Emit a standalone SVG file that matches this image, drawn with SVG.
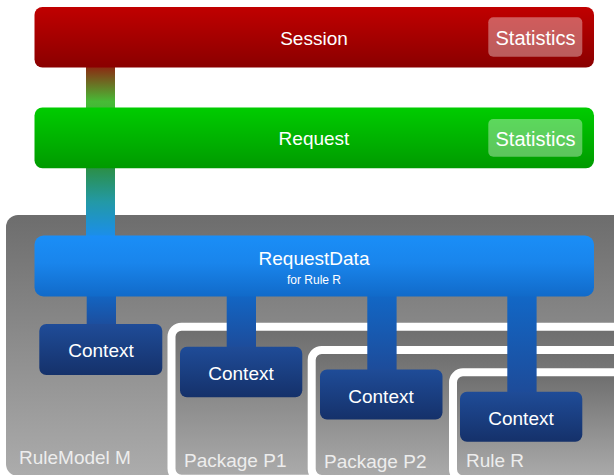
<svg xmlns="http://www.w3.org/2000/svg" width="614" height="475" viewBox="0 0 614 475">
  <defs>
    <linearGradient id="gSession" x1="0" y1="0" x2="0" y2="1">
      <stop offset="0" stop-color="#c00000"/>
      <stop offset="1" stop-color="#8a0000"/>
    </linearGradient>
    <linearGradient id="gRequest" x1="0" y1="0" x2="0" y2="1">
      <stop offset="0" stop-color="#00cc00"/>
      <stop offset="1" stop-color="#009a00"/>
    </linearGradient>
    <linearGradient id="gData" x1="0" y1="0" x2="0" y2="1">
      <stop offset="0" stop-color="#1a8ef7"/>
      <stop offset="0.45" stop-color="#1985ec"/>
      <stop offset="1" stop-color="#116ac9"/>
    </linearGradient>
    <linearGradient id="gContext" x1="0" y1="0" x2="0" y2="1">
      <stop offset="0" stop-color="#1f4c98"/>
      <stop offset="1" stop-color="#15316a"/>
    </linearGradient>
    <linearGradient id="gBranch" x1="0" y1="0" x2="0" y2="1">
      <stop offset="0" stop-color="#1169c9"/>
      <stop offset="1" stop-color="#1e4a97"/>
    </linearGradient>
    <linearGradient id="gTrunk" gradientUnits="userSpaceOnUse" x1="0" y1="67" x2="0" y2="240">
      <stop offset="0" stop-color="#8c2a12"/>
      <stop offset="0.2" stop-color="#47bb36"/>
      <stop offset="0.58" stop-color="#2b8f45"/>
      <stop offset="0.78" stop-color="#2399a6"/>
      <stop offset="1" stop-color="#1a8df2"/>
    </linearGradient>
    <linearGradient id="gPanel" x1="0" y1="0" x2="0" y2="1">
      <stop offset="0" stop-color="#6d6d6d"/>
      <stop offset="1" stop-color="#acacac"/>
    </linearGradient>
    <style>
      text { font-family: "Liberation Sans", Arial, sans-serif; text-anchor: middle; }
      .title { font-size: 19px; fill: #ffffff; }
      .stats { font-size: 20px; fill: #ffffff; }
      .sub { font-size: 12px; fill: #ffffff; }
      .label { font-size: 19px; fill: #ededed; text-anchor: start; }
      .statbox { fill: #ffffff; fill-opacity: 0.36; }
      .frame { fill: url(#gPanel); stroke: #ffffff; stroke-width: 8; }
      .ctx { fill: url(#gContext); }
      .branch { fill: url(#gBranch); }
    </style>
  </defs>

  <!-- rule model container -->
  <g id="rulemodel">
    <rect x="6" y="215" width="640" height="261" rx="12" fill="url(#gPanel)"/>
    <text class="label" x="19" y="464">RuleModel M</text>
  </g>

  <!-- nested scopes -->
  <g id="package-p1">
    <rect class="frame" x="171.5" y="326.7" width="470" height="152" rx="10"/>
    <text class="label" x="184" y="467">Package P1</text>
  </g>
  <g id="package-p2">
    <rect class="frame" x="311.7" y="350" width="330" height="129" rx="10"/>
    <text class="label" x="324" y="468">Package P2</text>
  </g>
  <g id="rule-r">
    <rect class="frame" x="453" y="372.3" width="190" height="107" rx="10"/>
    <text class="label" x="466" y="467">Rule R</text>
  </g>

  <!-- connectors -->
  <g id="connectors">
    <rect x="86" y="60" width="29" height="182" fill="url(#gTrunk)"/>
    <rect class="branch" x="86.7" y="290" width="29.3" height="40"/>
    <rect class="branch" x="226.7" y="290" width="29.3" height="62"/>
    <rect class="branch" x="367.3" y="290" width="29.3" height="85"/>
    <rect class="branch" x="507.3" y="290" width="29.3" height="107"/>
  </g>

  <g id="session">
    <rect x="34.5" y="7" width="559.5" height="60.5" rx="8" fill="url(#gSession)"/>
    <text class="title" x="314" y="45">Session</text>
    <rect class="statbox" x="488.3" y="17.3" width="94" height="39.4" rx="5"/>
    <text class="stats" x="535.5" y="45">Statistics</text>
  </g>

  <g id="request">
    <rect x="34.5" y="107.5" width="559.5" height="60.8" rx="8" fill="url(#gRequest)"/>
    <text class="title" x="314" y="145">Request</text>
    <rect class="statbox" x="488.3" y="119" width="94" height="37.7" rx="5"/>
    <text class="stats" x="535.5" y="146">Statistics</text>
  </g>

  <g id="requestdata">
    <rect x="34.5" y="235.5" width="559.5" height="61" rx="9" fill="url(#gData)"/>
    <text class="title" x="314" y="265">RequestData</text>
    <text class="sub" x="314" y="283.5">for Rule R</text>
  </g>

  <g id="context-m">
    <rect class="ctx" x="39.3" y="324" width="123" height="51" rx="7"/>
    <text class="title" x="101" y="357.3">Context</text>
  </g>
  <g id="context-p1">
    <rect class="ctx" x="180" y="346.7" width="122.3" height="50.6" rx="7"/>
    <text class="title" x="241" y="380">Context</text>
  </g>
  <g id="context-p2">
    <rect class="ctx" x="320" y="369.5" width="122.5" height="50" rx="7"/>
    <text class="title" x="381" y="402.5">Context</text>
  </g>
  <g id="context-r">
    <rect class="ctx" x="460" y="391.7" width="122.3" height="50" rx="7"/>
    <text class="title" x="521" y="424.7">Context</text>
  </g>
</svg>
